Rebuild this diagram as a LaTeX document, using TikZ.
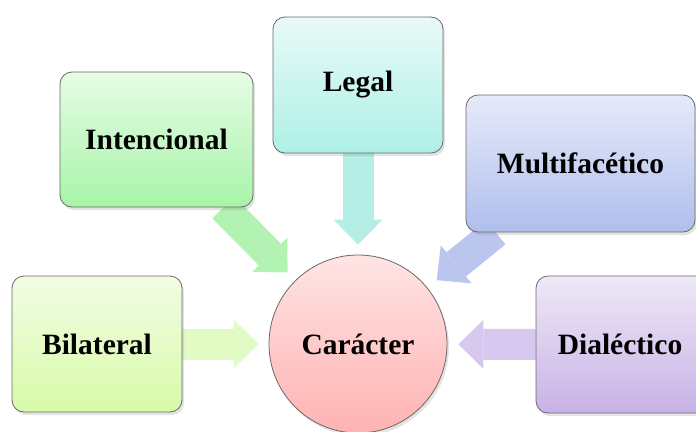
\documentclass[tikz,border=0pt]{standalone}
\usepackage{fontspec}
\setmainfont{Liberation Serif}
\usetikzlibrary{arrows.meta,shadows}
\pgfdeclarelayer{background}
\pgfsetlayers{background,main}
\definecolor{boxline}{RGB}{105,105,105}
\definecolor{bilTop}{RGB}{242,252,228}
\definecolor{bilBot}{RGB}{216,250,168}
\definecolor{bilArr}{RGB}{226,250,196}
\definecolor{intTop}{RGB}{230,252,230}
\definecolor{intBot}{RGB}{168,244,168}
\definecolor{intArr}{RGB}{178,242,178}
\definecolor{legTop}{RGB}{232,250,248}
\definecolor{legBot}{RGB}{174,240,230}
\definecolor{legArr}{RGB}{180,238,228}
\definecolor{mulTop}{RGB}{230,234,249}
\definecolor{mulBot}{RGB}{176,190,236}
\definecolor{mulArr}{RGB}{186,198,238}
\definecolor{diaTop}{RGB}{238,232,247}
\definecolor{diaBot}{RGB}{200,178,230}
\definecolor{diaArr}{RGB}{214,200,238}
\definecolor{carTop}{RGB}{255,228,228}
\definecolor{carBot}{RGB}{255,178,178}
\begin{document}
\begin{tikzpicture}[x=1pt,y=-1pt,
  lbl/.style={font=\fontsize{29.5}{33}\selectfont\bfseries},
  box/.style={lbl, draw=boxline, line width=0.8pt, rounded corners=12pt, inner sep=0pt,
    drop shadow={shadow xshift=2pt,shadow yshift=-3pt,opacity=0.22}},
  blk/.style={line width=31pt, -{Triangle[width=49pt,length=25pt,line width=0pt]}},
]
\useasboundingbox (0,0) rectangle (696,431);
\node[box, minimum width=170pt, minimum height=136pt, top color=bilTop, bottom color=bilBot] (bil) at (97,344) {Bilateral};
\node[box, minimum width=193pt, minimum height=135pt, top color=intTop, bottom color=intBot] (int) at (156.5,139.5) {Intencional};
\node[box, minimum width=170pt, minimum height=136pt, top color=legTop, bottom color=legBot] (leg) at (358,85) {Legal};
\node[box, minimum width=229pt, minimum height=137pt, top color=mulTop, bottom color=mulBot] (mul) at (580.5,163.5) {Multifacético};
\node[box, minimum width=176pt, minimum height=137pt, top color=diaTop, bottom color=diaBot] (dia) at (624,344.5) {\hspace*{-8pt}Dialéctico};
\node[lbl, circle, inner sep=0pt, minimum size=178pt, draw=boxline, line width=0.8pt, top color=carTop, bottom color=carBot,
  drop shadow={shadow xshift=2pt,shadow yshift=-3pt,opacity=0.22}] (car) at (358,344) {Carácter};
\begin{pgfonlayer}{background}
\draw[blk, bilArr, shorten >=10pt] (bil) -- (car);
\draw[blk, diaArr, shorten >=11pt] (dia.west) -- (car);
\draw[blk, legArr, shorten >=10pt] (leg) -- (car);
\draw[blk, intArr, shorten >=11pt] (int) -- (car);
\draw[blk, mulArr, shorten >=12pt] (mul) -- (car);
\end{pgfonlayer}
\end{tikzpicture}
\end{document}
